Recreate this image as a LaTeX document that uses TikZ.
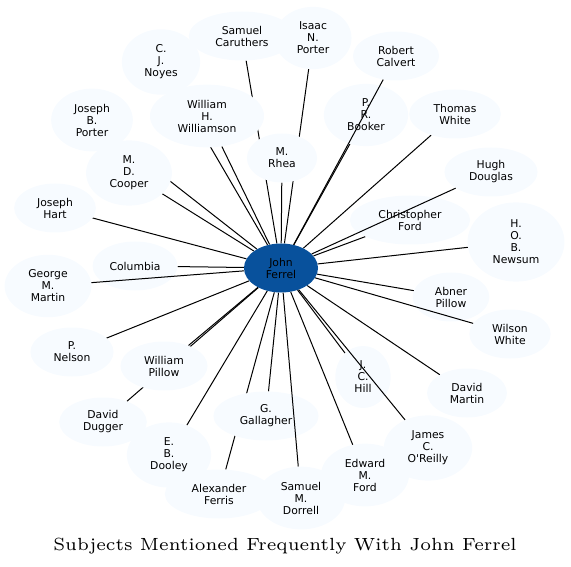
\documentclass[tikz,border=0pt]{standalone}
\usepackage{fontspec}
\usepackage{tikz}
\usetikzlibrary{shapes.geometric}
\newfontfamily\labelfont{DejaVu Sans}
\newfontfamily\titlefont{lmroman6-regular.otf}
\definecolor{nodefill}{HTML}{F7FBFF}
\definecolor{hubfill}{HTML}{08519C}
\pgfdeclarelayer{background}
\pgfsetlayers{background,main}

\begin{document}
\begin{tikzpicture}[x=1pt,y=-1pt,
  person/.style={ellipse,fill=nodefill,inner xsep=11pt,inner ysep=6pt,minimum height=49pt,align=center,font=\labelfont\fontsize{10.8}{12}\selectfont},
  hub/.style={person,fill=hubfill},
  link/.style={line width=1pt}]
\useasboundingbox (0,0) rectangle (571,567);
%put nodes
\node[hub] (ferrel) at (281,268) {John\\Ferrel};
%top
\node[person] (caruthers) at (242,36) {Samuel\\Caruthers};
\node[person] (inporter) at (313,38) {Isaac\\N.\\Porter};
\node[person] (noyes) at (161,62) {C.\\J.\\Noyes};
\node[person] (calvert) at (396,56) {Robert\\Calvert};
\node[person] (williamson) at (207,116) {William\\H.\\Williamson};
\node[person] (jbporter) at (92,120) {Joseph\\B.\\Porter};
\node[person] (booker) at (366,115) {P.\\R.\\Booker};
\node[person] (twhite) at (455,114) {Thomas\\White};
\node[person] (rhea) at (282,158) {M.\\Rhea};
\node[person] (cooper) at (129,173) {M.\\D.\\Cooper};
\node[person] (douglas) at (491,172) {Hugh\\Douglas};
\node[person] (hart) at (55,208) {Joseph\\Hart};
\node[person] (cford) at (410,220) {Christopher\\Ford};
\node[person] (newsum) at (516,242) {H.\\O.\\B.\\Newsum};
\node[person,inner xsep=4.5pt] (columbia) at (135,266) {Columbia};
%bottom
\node[person] (gmmartin) at (48,286) {George\\M.\\Martin};
\node[person] (apillow) at (451,297) {Abner\\Pillow};
\node[person] (wwhite) at (510,334) {Wilson\\White};
\node[person] (nelson) at (72,352) {P.\\Nelson};
\node[person] (wpillow) at (164,366) {William\\Pillow};
\node[person] (hill) at (363,377) {J.\\C.\\Hill};
\node[person] (dmartin) at (467,393) {David\\Martin};
\node[person] (dugger) at (103,422) {David\\Dugger};
\node[person] (gallagher) at (266,416) {G.\\Gallagher};
\node[person] (dooley) at (169,455) {E.\\B.\\Dooley};
\node[person] (oreilly) at (428,448) {James\\C.\\O\textquotesingle Reilly};
\node[person] (emford) at (365,475) {Edward\\M.\\Ford};
\node[person] (ferris) at (219,494) {Alexander\\Ferris};
\node[person] (dorrell) at (301,498) {Samuel\\M.\\Dorrell};
%caption
\node (title) at (285,546) {\titlefont\fontsize{17.6}{20}\selectfont Subjects Mentioned Frequently With John Ferrel};

%plot the links
\begin{pgfonlayer}{background}
\foreach \who in {caruthers,inporter,noyes,williamson,jbporter,booker,twhite,rhea,cooper,hart,cford,newsum,columbia,apillow,nelson,wpillow,hill,dmartin,dugger,gallagher,dooley,ferris}
  \draw[link] (ferrel) -- (\who);
\end{pgfonlayer}
%these cross other nodes
\foreach \who in {calvert,douglas,gmmartin,wwhite,oreilly,emford,dorrell}
  \draw[link] (ferrel) -- (\who);
\end{tikzpicture}
\end{document}
